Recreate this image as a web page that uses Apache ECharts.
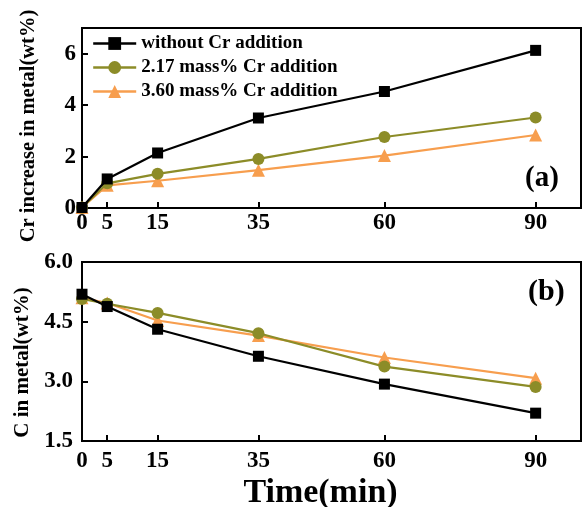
<!DOCTYPE html>
<html><head><meta charset="utf-8">
<script src="https://cdn.jsdelivr.net/npm/echarts@6/dist/echarts.min.js"></script>
<style>html,body{margin:0;padding:0;background:#fff}#c{width:583px;height:507px}</style>
</head><body><div id="c"></div>
<script>
const times = [0, 5, 15, 35, 60, 90];
const xTickLabels = [0, 5, 15, 35, 60, 90];
const seriesNames = ['without Cr addition', '2.17 mass% Cr addition', '3.60 mass% Cr addition'];
const crNoAdd = [0.02, 1.13, 2.14, 3.5, 4.53, 6.13];
const cr217 = [0.02, 0.96, 1.33, 1.91, 2.76, 3.52];
const cr360 = [0.02, 0.88, 1.06, 1.47, 2.04, 2.84];
const cNoAdd = [5.19, 4.88, 4.31, 3.63, 2.93, 2.2];
const c217 = [5.07, 4.95, 4.72, 4.21, 3.37, 2.86];
const c360 = [5.1, 4.97, 4.53, 4.15, 3.6, 3.08];
const topYTicks = [0, 2, 4, 6];

const colors = ['#000000', '#8c8c28', '#f79e4e'];
const symbols = ['rect', 'circle', 'triangle'];
const symSizes = [11, 12, 13];
const font = '"Liberation Serif","Times New Roman",serif';

const chart = echarts.init(document.getElementById('c'));
function pairs(vals){ return times.map((t,i)=>[t, vals[i]]); }
function mkSeries(idx, vals, axisIdx){
  return {
    name: seriesNames[idx], type: 'line', xAxisIndex: axisIdx, yAxisIndex: axisIdx,
    data: pairs(vals), symbol: symbols[idx], symbolSize: symSizes[idx],
    lineStyle: {color: colors[idx], width: 2.2}, itemStyle: {color: colors[idx]},
    z: 10 - idx, animation: false
  };
}
const axisLineStyle = {lineStyle: {color: '#000', width: 2}};
function xAxisCfg(gridIndex, withName, margin){
  return {
    type: 'value', gridIndex, min: 0, max: 99,
    axisLine: axisLineStyle,
    axisTick: {inside: true, length: 6, lineStyle: {color: '#000', width: 2}, customValues: xTickLabels},
    axisLabel: {customValues: xTickLabels, color: '#000', fontFamily: font, fontWeight: 'bold', fontSize: 23, margin: margin},
    splitLine: {show: false},
    name: withName ? 'Time(min)' : '', nameLocation: 'middle', nameGap: 35,
    nameTextStyle: {color: '#000', fontFamily: font, fontWeight: 'bold', fontSize: 34, padding: [0, 22, 0, 0]}
  };
}
const option = {
  backgroundColor: '#fff',
  animation: false,
  grid: [
    {left: 82, top: 28, right: 2, height: 180, show: true, borderColor: '#000', borderWidth: 2, outerBoundsMode: 'none', containLabel: false},
    {left: 82, top: 262, right: 2, height: 179, show: true, borderColor: '#000', borderWidth: 2, outerBoundsMode: 'none', containLabel: false}
  ],
  legend: {
    data: seriesNames, orient: 'vertical', left: 87, top: 29, itemWidth: 43, itemHeight: 16, itemGap: 5,
    lineStyle: {width: 2.4},
    textStyle: {color: '#000', fontFamily: font, fontWeight: 'bold', fontSize: 19}
  },
  xAxis: [xAxisCfg(0, false, 4), xAxisCfg(1, true, 9)],
  yAxis: [
    {type: 'value', gridIndex: 0, min: 0, max: 7,
     axisLine: axisLineStyle,
     axisTick: {inside: true, length: 6, lineStyle: {color: '#000', width: 2}, customValues: topYTicks},
     axisLabel: {customValues: topYTicks, color: '#000', fontFamily: font, fontWeight: 'bold', fontSize: 23, margin: 6},
     splitLine: {show: false},
     name: 'Cr increase in metal(wt%)', nameLocation: 'middle', nameGap: 43,
     nameTextStyle: {color: '#000', fontFamily: font, fontWeight: 'bold', fontSize: 20.5, padding: [0, 16, 0, 0]}},
    {type: 'value', gridIndex: 1, min: 1.5, max: 6, interval: 1.5,
     axisLine: axisLineStyle,
     axisTick: {inside: true, length: 6, lineStyle: {color: '#000', width: 2}},
     axisLabel: {color: '#000', fontFamily: font, fontWeight: 'bold', fontSize: 23, margin: 9, formatter: v => v.toFixed(1)},
     splitLine: {show: false},
     name: 'C in metal(wt%)', nameLocation: 'middle', nameGap: 46,
     nameTextStyle: {color: '#000', fontFamily: font, fontWeight: 'bold', fontSize: 21, padding: [0, 22, 0, 0]}}
  ],
  graphic: [
    {type: 'text', left: 525, top: 164, style: {text: '(a)', fill: '#000', font: 'bold 29px ' + font}},
    {type: 'text', left: 528, top: 277, style: {text: '(b)', fill: '#000', font: 'bold 30px ' + font}}
  ],
  series: [
    mkSeries(0, crNoAdd, 0), mkSeries(1, cr217, 0), mkSeries(2, cr360, 0),
    mkSeries(0, cNoAdd, 1), mkSeries(1, c217, 1), mkSeries(2, c360, 1)
  ]
};
chart.setOption(option);
</script></body></html>
